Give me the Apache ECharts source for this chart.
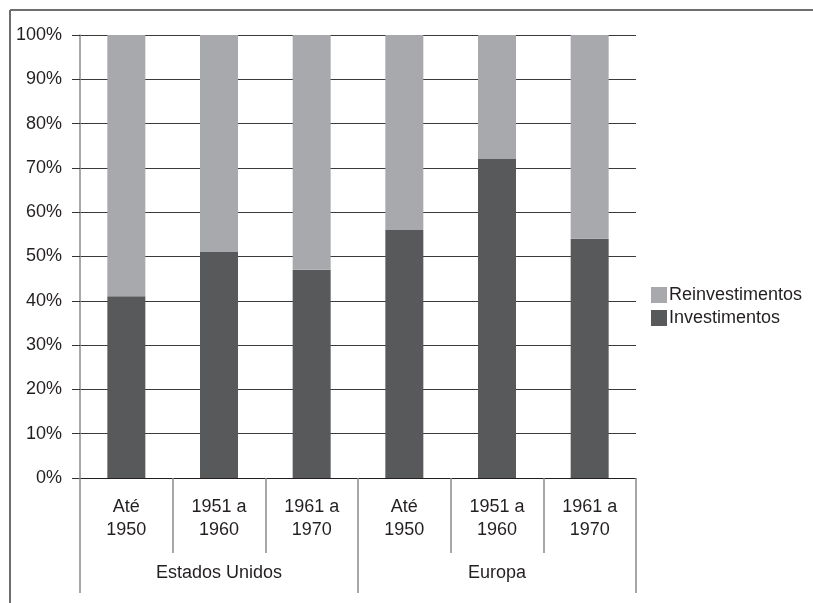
<!DOCTYPE html>
<html>
<head>
<meta charset="utf-8">
<script src="https://cdn.jsdelivr.net/npm/echarts@6/dist/echarts.min.js"></script>
<style>
html,body{margin:0;padding:0;background:#fff;}
#chart{width:813px;height:603px;}
</style>
</head>
<body>
<div id="chart"></div>
<script>
var periods = ['Até\n1950', '1951 a\n1960', '1961 a\n1970', 'Até\n1950', '1951 a\n1960', '1961 a\n1970'];
var regions = ['Estados Unidos', 'Europa'];
var investimentos = [41, 51, 47, 56, 72, 54];
var reinvestimentos = [59, 49, 53, 44, 28, 46];
var yTicks = [0, 10, 20, 30, 40, 50, 60, 70, 80, 90, 100];

var FONT = 'Liberation Sans, Arial, sans-serif';
var TXT = '#231f20';
var FS = 18;
var chart = echarts.init(document.getElementById('chart'), null, {renderer: 'canvas'});
chart.setOption({
  animation: false,
  backgroundColor: '#fff',
  textStyle: {fontFamily: FONT},
  graphic: [
    {type: 'line', shape: {x1: 10, y1: 10, x2: 813, y2: 10}, style: {stroke: '#6d6e70', lineWidth: 2}},
    {type: 'line', shape: {x1: 10, y1: 10, x2: 10, y2: 603}, style: {stroke: '#6d6e70', lineWidth: 2}}
  ],
  legend: {
    orient: 'vertical',
    left: 646,
    top: 281,
    itemWidth: 16,
    itemHeight: 16,
    itemGap: 5,
    icon: 'rect',
    textStyle: {fontFamily: FONT, fontSize: FS, color: TXT, padding: [0, 0, 0, -3]},
    data: ['Reinvestimentos', 'Investimentos']
  },
  grid: {left: 80, right: 177, top: 35, bottom: 125, containLabel: false},
  xAxis: [
    {
      type: 'category',
      data: periods,
      position: 'bottom',
      axisLine: {show: true, lineStyle: {color: '#231f20', width: 1}},
      axisTick: {show: true, length: 75, interval: 0, lineStyle: {color: '#8a8b8d', width: 1.5}},
      axisLabel: {interval: 0, margin: 18, fontSize: FS, lineHeight: 23, color: TXT, fontFamily: FONT, align: 'center'}
    },
    {
      type: 'category',
      data: regions,
      position: 'bottom',
      offset: 0,
      axisLine: {show: false},
      axisTick: {show: true, length: 115, interval: 0, lineStyle: {color: '#8a8b8d', width: 1.5}},
      axisLabel: {interval: 0, margin: 86, fontSize: FS, color: TXT, fontFamily: FONT}
    }
  ],
  yAxis: {
    type: 'value',
    min: 0,
    max: 100,
    interval: 10,
    axisLine: {show: true, lineStyle: {color: '#8a8b8d', width: 1.5}},
    axisTick: {show: true, length: 8, lineStyle: {color: '#333', width: 1}},
    axisLabel: {formatter: '{value}%', margin: 18, fontSize: FS, color: TXT, fontFamily: FONT},
    splitLine: {show: true, lineStyle: {color: '#3a3a3a', width: 1}}
  },
  series: [
    {
      name: 'Investimentos',
      type: 'bar',
      stack: 'total',
      xAxisIndex: 0,
      barWidth: 38,
      itemStyle: {color: '#58595b'},
      data: investimentos
    },
    {
      name: 'Reinvestimentos',
      type: 'bar',
      stack: 'total',
      xAxisIndex: 0,
      barWidth: 38,
      itemStyle: {color: '#a7a9ac'},
      data: reinvestimentos
    }
  ]
});
</script>
</body>
</html>
